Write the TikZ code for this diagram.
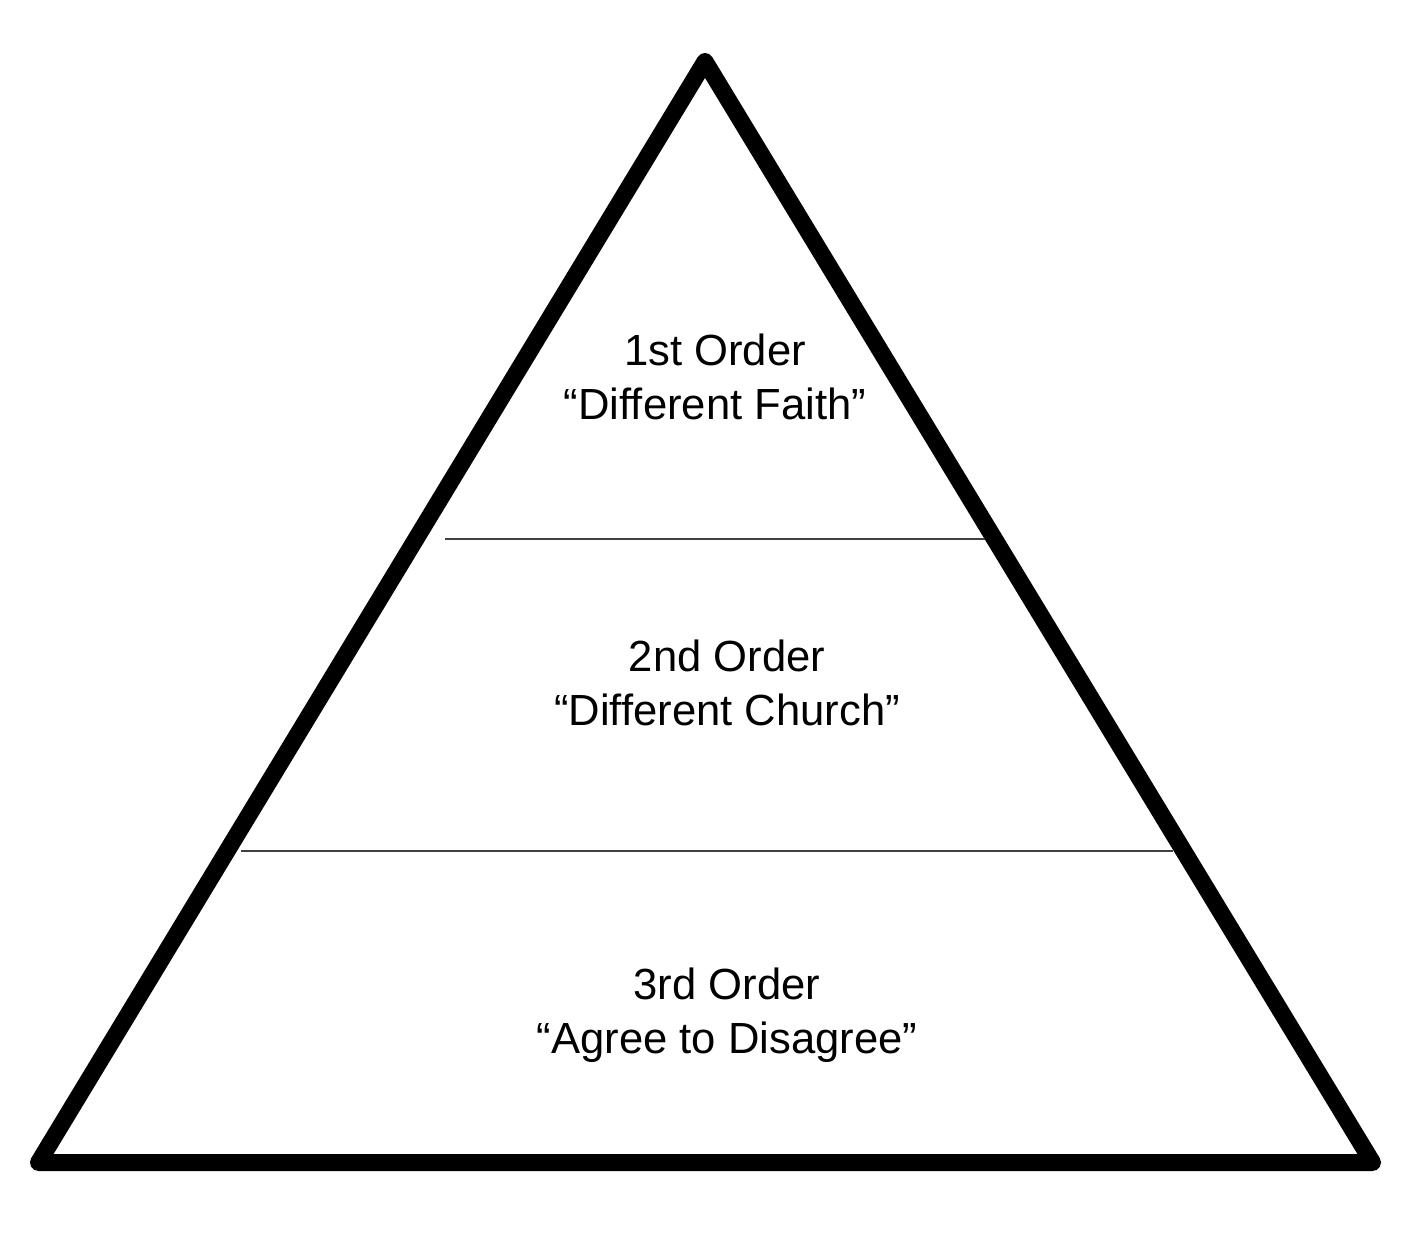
\documentclass[tikz,border=0pt]{standalone}
\usepackage{fontspec}
\setmainfont{Liberation Sans}
\tikzset{
  tier/.style={anchor=center,align=center,inner sep=0pt,font=\fontsize{21.8pt}{27pt}\selectfont},
  divider/.style={line width=1.1pt,black!75}
}
\begin{document}
\begin{tikzpicture}[x=0.5pt,y=-0.5pt]
                \useasboundingbox (0,0) rectangle (1425,1234);
                \coordinate (apex) at (705,61.5);
                \coordinate (left) at (38.5,1162.5);
                \coordinate (right) at (1372.5,1162.5);
                \draw[line width=8.5pt,line join=round] (apex) -- (left) -- (right) -- cycle;
                \draw[divider] (445,539) -- (985,539);
                \draw[divider] (241,851) -- (1173,851);
                \node[tier] (first) at (715,377) {1st Order\\“Different Faith”};
                \node[tier] (second) at (727,683) {2nd Order\\“Different Church”};
                \node[tier] (third) at (727,1015) {3rd Order\\“Agree to Disagree”};
            \end{tikzpicture}
\end{document}
